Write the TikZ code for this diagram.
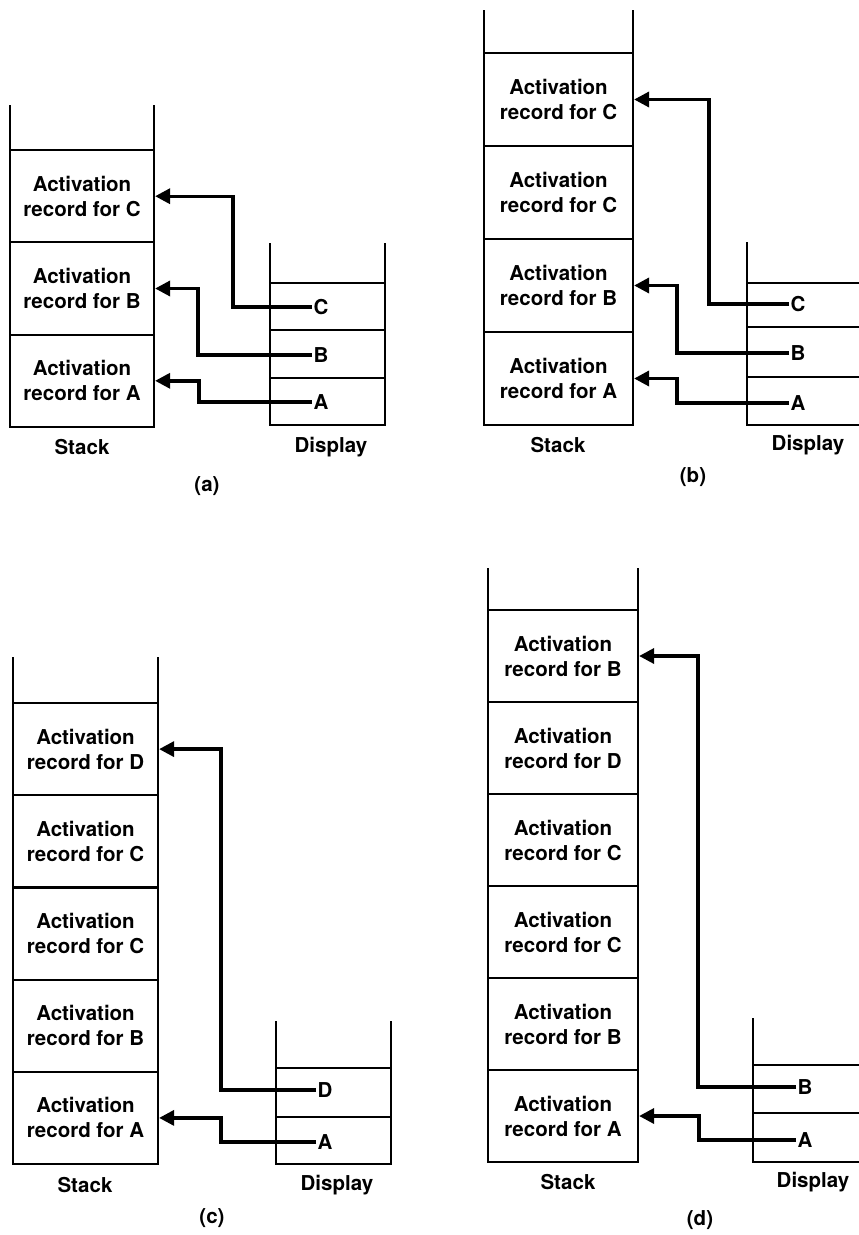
\documentclass[tikz,border=0pt]{standalone}
\usepackage{fontspec}
\setmainfont{TeX Gyre Heros}
\usetikzlibrary{arrows.meta}
\newcommand{\lbf}{\fontsize{20.5}{25}\selectfont\bfseries}
\begin{document}
\begin{tikzpicture}[x=1pt,y=-1pt,
  wall/.style={line width=2.2pt},
  rec/.style={draw, line width=2.2pt, inner sep=0pt, align=center, font=\lbf},
  slot/.style={anchor=west, inner sep=1.5pt, font=\lbf},
  captext/.style={inner sep=0pt, font=\lbf},
  arr/.style={line width=3.4pt, -{Triangle[length=15pt,width=15pt]}}]
\useasboundingbox (0,0) rectangle (859,1235);

% ---------------- (a) ----------------
\draw[wall] (10,105) -- (10,150);
\draw[wall] (154,105) -- (154,150);
\node[rec, minimum width=144pt, minimum height=92.3pt] (aC) at (82,196.2) {Activation\\record for C};
\node[rec, minimum width=144pt, minimum height=92.3pt] (aB) at (82,288.5) {Activation\\record for B};
\node[rec, minimum width=144pt, minimum height=92.3pt] (aA) at (82,380.8) {Activation\\record for A};
\draw[wall] (270,243) -- (270,425) -- (385,425) -- (385,243);
\draw[wall] (270,283) -- (385,283);
\draw[wall] (270,330) -- (385,330);
\draw[wall] (270,378) -- (385,378);
\node[slot] (aCl) at (312,307) {C};
\node[slot] (aBl) at (312,355) {B};
\node[slot] (aAl) at (312,402) {A};
\coordinate (aCk) at (233,0);
\coordinate (aBk) at (198,0);
\coordinate (aAk) at (199,0);
\draw[arr] (aCl.west) -| (aCk |- aC.east) -- (aC.east);
\draw[arr] (aBl.west) -| (aBk |- aB.east) -- (aB.east);
\draw[arr] (aAl.west) -| (aAk |- aA.east) -- (aA.east);
\node[captext] (aS) at (82,447) {Stack};
\node[captext] (aD) at (331,447) {Display};
\node[captext] (aL) at (207,486) {(a)};

% ---------------- (b) ----------------
\draw[wall] (484,10) -- (484,53);
\draw[wall] (633,10) -- (633,53);
\node[rec, minimum width=149pt, minimum height=93pt] (bC2) at (558.5,99.5) {Activation\\record for C};
\node[rec, minimum width=149pt, minimum height=93pt] (bC1) at (558.5,192.5) {Activation\\record for C};
\node[rec, minimum width=149pt, minimum height=93pt] (bB) at (558.5,285.5) {Activation\\record for B};
\node[rec, minimum width=149pt, minimum height=93pt] (bA) at (558.5,378.5) {Activation\\record for A};
\draw[wall] (747,242) -- (747,425) -- (859,425);
\draw[wall] (747,283) -- (859,283);
\draw[wall] (747,327) -- (859,327);
\draw[wall] (747,377) -- (859,377);
\node[slot] (bCl) at (789,304) {C};
\node[slot] (bBl) at (789,353) {B};
\node[slot] (bAl) at (789,403) {A};
\coordinate (bCk) at (709,0);
\coordinate (bBk) at (677,0);
\coordinate (bAk) at (677,0);
\draw[arr] (bCl.west) -| (bCk |- bC2.east) -- (bC2.east);
\draw[arr] (bBl.west) -| (bBk |- bB.east) -- (bB.east);
\draw[arr] (bAl.west) -| (bAk |- bA.east) -- (bA.east);
\node[captext] (bS) at (558,445) {Stack};
\node[captext] (bD) at (808,445) {Display};
\node[captext] (bL) at (693,477) {(b)};

% ---------------- (c) ----------------
\draw[wall] (13,657) -- (13,703);
\draw[wall] (158,657) -- (158,703);
\node[rec, minimum width=145pt, minimum height=92.2pt] (cD) at (85.5,749.1) {Activation\\record for D};
\node[rec, minimum width=145pt, minimum height=92.2pt] (cC2) at (85.5,841.3) {Activation\\record for C};
\node[rec, minimum width=145pt, minimum height=92.2pt] (cC1) at (85.5,933.5) {Activation\\record for C};
\node[rec, minimum width=145pt, minimum height=92.2pt] (cB) at (85.5,1025.7) {Activation\\record for B};
\node[rec, minimum width=145pt, minimum height=92.2pt] (cA) at (85.5,1117.9) {Activation\\record for A};
\draw[wall] (276,1021) -- (276,1164) -- (391,1164) -- (391,1021);
\draw[wall] (276,1068) -- (391,1068);
\draw[wall] (276,1117) -- (391,1117);
\node[slot] (cDl) at (316,1090) {D};
\node[slot] (cAl) at (316,1142) {A};
\coordinate (cDk) at (221,0);
\coordinate (cAk) at (221,0);
\draw[arr] (cDl.west) -| (cDk |- cD.east) -- (cD.east);
\draw[arr] (cAl.west) -| (cAk |- cA.east) -- (cA.east);
\node[captext] (cS) at (85,1185) {Stack};
\node[captext] (cDi) at (337,1185) {Display};
\node[captext] (cL) at (212,1218) {(c)};

% ---------------- (d) ----------------
\draw[wall] (488,568) -- (488,610);
\draw[wall] (638,568) -- (638,610);
\node[rec, minimum width=150pt, minimum height=92pt] (dB2) at (563,656) {Activation\\record for B};
\node[rec, minimum width=150pt, minimum height=92pt] (dD) at (563,748) {Activation\\record for D};
\node[rec, minimum width=150pt, minimum height=92pt] (dC2) at (563,840) {Activation\\record for C};
\node[rec, minimum width=150pt, minimum height=92pt] (dC1) at (563,932) {Activation\\record for C};
\node[rec, minimum width=150pt, minimum height=92pt] (dB1) at (563,1024) {Activation\\record for B};
\node[rec, minimum width=150pt, minimum height=92pt] (dA) at (563,1116) {Activation\\record for A};
\draw[wall] (753,1018) -- (753,1162) -- (859,1162);
\draw[wall] (753,1065) -- (859,1065);
\draw[wall] (753,1113) -- (859,1113);
\node[slot] (dBl) at (796,1087) {B};
\node[slot] (dAl) at (796,1140) {A};
\coordinate (dBk) at (698,0);
\coordinate (dAk) at (699,0);
\draw[arr] (dBl.west) -| (dBk |- dB2.east) -- (dB2.east);
\draw[arr] (dAl.west) -| (dAk |- dA.east) -- (dA.east);
\node[captext] (dS) at (568,1182) {Stack};
\node[captext] (dDi) at (813,1182) {Display};
\node[captext] (dL) at (700,1220) {(d)};
\end{tikzpicture}
\end{document}
